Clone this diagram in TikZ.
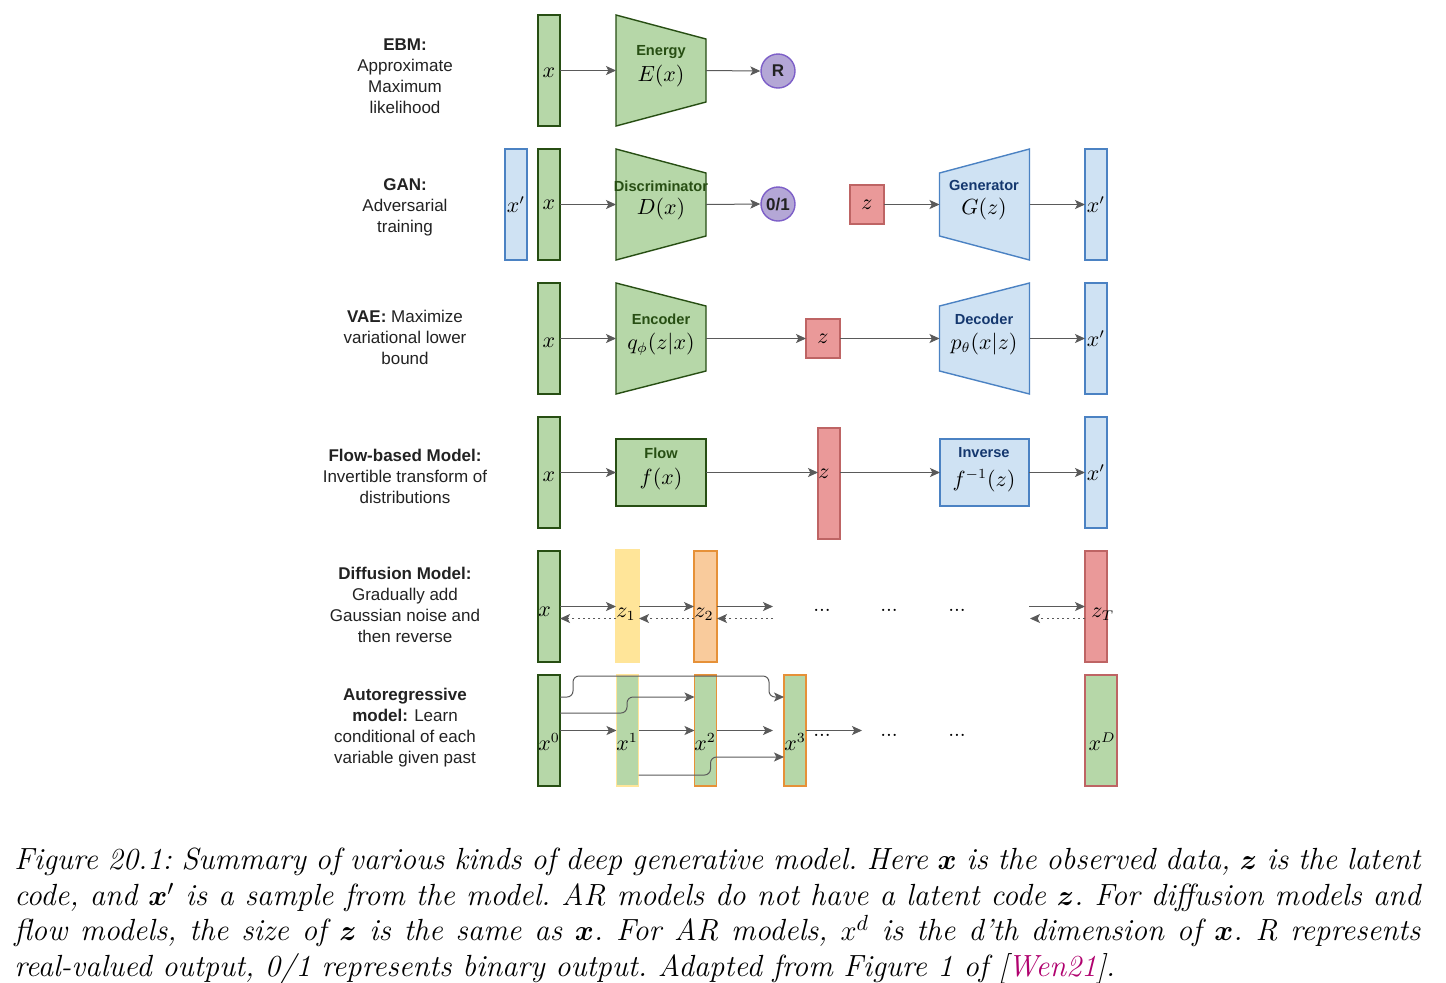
\documentclass[tikz,border=0pt]{standalone}
\usepackage{fontspec}
\usepackage{amsmath}
\usepackage{bm}
\usetikzlibrary{arrows.meta,calc}
\newfontfamily\sansL{Liberation Sans}
\definecolor{gfill}{RGB}{182,215,168}
\definecolor{gdraw}{RGB}{39,78,19}
\definecolor{bfill}{RGB}{207,226,243}
\definecolor{bdraw}{RGB}{75,130,195}
\definecolor{rfill}{RGB}{234,153,153}
\definecolor{rdraw}{RGB}{190,100,100}
\definecolor{pfill}{RGB}{180,167,214}
\definecolor{pdraw}{RGB}{125,95,200}
\definecolor{yfill}{RGB}{255,229,153}
\definecolor{ofill}{RGB}{249,203,156}
\definecolor{odraw}{RGB}{230,145,56}
\definecolor{arrc}{RGB}{90,90,90}
\definecolor{gtext}{RGB}{39,78,19}
\definecolor{btext}{RGB}{20,55,110}
\definecolor{txt}{RGB}{34,34,34}
\definecolor{wen}{RGB}{176,0,110}
\tikzset{
  box/.style={draw, line width=0.7pt, inner sep=0pt, outer sep=0pt},
  gbox/.style={box, draw=gdraw, fill=gfill},
  bbox/.style={box, draw=bdraw, fill=bfill},
  rbox/.style={box, draw=rdraw, fill=rfill},
  vbar/.style={minimum width=11pt, minimum height=55.5pt},
  sqbox/.style={minimum width=17pt, minimum height=19.5pt},
  hid/.style={inner sep=0pt, outer sep=0pt, minimum width=45pt, minimum height=55.5pt},
  arr/.style={draw=arrc, line width=0.5pt, -{Stealth[length=5pt,width=4.5pt,inset=1.2pt]}},
  dashline/.style={dash pattern=on 1pt off 1.6pt},
  side/.style={font=\sansL\fontsize{8.5}{10.5}\selectfont, align=center, text=txt, inner sep=0pt},
  gtitle/.style={font=\sansL\bfseries\fontsize{7.3}{9}\selectfont, text=gtext, inner sep=0pt},
  btitle/.style={font=\sansL\bfseries\fontsize{7.3}{9}\selectfont, text=btext, inner sep=0pt},
  mth/.style={font=\fontsize{10.5}{12}\selectfont, inner sep=0pt},
  dotsl/.style={font=\fontsize{10.5}{12}\selectfont, inner sep=0pt},
  circ/.style={circle, line width=0.7pt, draw=pdraw, fill=pfill, minimum size=17pt, inner sep=0pt, font=\sansL\bfseries\fontsize{8.5}{10}\selectfont, text=txt},
}
\begin{document}
\begin{tikzpicture}[x=0.5pt,y=-0.5pt]
\fill[white] (0,0) rectangle (1446,982);
\useasboundingbox (0,0) rectangle (1446,982);

% ---------- Row 1: EBM ----------
\node[side] (l1) at (405,76) {\textbf{EBM:}\\Approximate\\Maximum\\likelihood};
\node[gbox,vbar] (e-x) at (549,70.5) {};
\node[mth] (e-xl) at (549,73) {$x$};
\node[hid] (e-en) at (661,70.5) {};
\draw[gbox] (e-en.north west) -- ([yshift=-12pt]e-en.north east) -- ([yshift=12pt]e-en.south east) -- (e-en.south west) -- cycle;
\node[gtitle] (e-ent) at (661,52) {Energy};
\node[mth] (e-enm) at (661,76) {$E(x)$};
\node[circ] (e-r) at (778,71) {R};
\draw[arr] (e-x.east) -- (e-en.west);
\draw[arr] (e-en.east) -- (e-r.west);

% ---------- Row 2: GAN ----------
\node[side] (l2) at (405,207.5) {\textbf{GAN:}\\Adversarial\\training};
\node[bbox,vbar,mth] (g-xp) at (516,204.5) {$x'$};
\node[gbox,vbar,mth] (g-x) at (549,204.5) {$x$};
\node[hid] (g-d) at (661,204.5) {};
\draw[gbox] (g-d.north west) -- ([yshift=-12pt]g-d.north east) -- ([yshift=12pt]g-d.south east) -- (g-d.south west) -- cycle;
\node[gtitle] (g-dt) at (661,186) {Discriminator};
\node[mth] (g-dm) at (661,209) {$D(x)$};
\node[circ] (g-c) at (778,204) {0/1};
\node[rbox,sqbox,mth] (g-z) at (867,204.5) {$z$};
\node[hid] (g-g) at (984.5,204.5) {};
\draw[bbox] (g-g.north east) -- (g-g.south east) -- ([yshift=12pt]g-g.south west) -- ([yshift=-12pt]g-g.north west) -- cycle;
\node[btitle] (g-gt) at (984,185) {Generator};
\node[mth] (g-gm) at (984,209) {$G(z)$};
\node[bbox,vbar,mth] (g-xo) at (1096,204.5) {$x'$};
\draw[arr] (g-x.east) -- (g-d.west);
\draw[arr] (g-d.east) -- (g-c.west);
\draw[arr] (g-z.east) -- (g-g.west);
\draw[arr] (g-g.east) -- (g-xo.west);

% ---------- Row 3: VAE ----------
\node[side] (l3) at (405,337.5) {\textbf{VAE:} Maximize\\variational lower\\bound};
\node[gbox,vbar] (v-x) at (549,338.5) {};
\node[mth] (v-xl) at (549,343) {$x$};
\node[hid] (v-e) at (661,338.5) {};
\draw[gbox] (v-e.north west) -- ([yshift=-11.5pt]v-e.north east) -- ([yshift=11.5pt]v-e.south east) -- (v-e.south west) -- cycle;
\node[gtitle] (v-et) at (661,319) {Encoder};
\node[mth] (v-em) at (661,344) {$q_\phi(z|x)$};
\node[rbox,sqbox,mth] (v-z) at (823,338.5) {$z$};
\node[hid] (v-d) at (984.5,338.5) {};
\draw[bbox] (v-d.north east) -- (v-d.south east) -- ([yshift=11.5pt]v-d.south west) -- ([yshift=-11.5pt]v-d.north west) -- cycle;
\node[btitle] (v-dt) at (984,319) {Decoder};
\node[mth] (v-dm) at (984,344) {$p_\theta(x|z)$};
\node[bbox,vbar,mth] (v-xo) at (1096,338.5) {$x'$};
\draw[arr] (v-x.east) -- (v-e.west);
\draw[arr] (v-e.east) -- (v-z.west);
\draw[arr] (v-z.east) -- (v-d.west);
\draw[arr] (v-d.east) -- (v-xo.west);

% ---------- Row 4: Flow ----------
\node[side] (l4) at (405,476.5) {\textbf{Flow-based Model:}\\Invertible transform of\\distributions};
\node[gbox,vbar] (f-x) at (549,472.5) {};
\node[mth] (f-xl) at (549,477) {$x$};
\node[gbox,minimum width=45pt,minimum height=33.5pt] (f-f) at (661,472.5) {};
\node[gtitle] (f-ft) at (661,453) {Flow};
\node[mth] (f-fm) at (661,479) {$f(x)$};
\node[rbox,vbar] (f-z) at (829,483.5) {};
\node[mth,anchor=west] (f-zl) at (818,474) {$z$};
\node[bbox,minimum width=44.5pt,minimum height=33.5pt] (f-i) at (984.5,472.5) {};
\node[btitle] (f-it) at (984,453) {Inverse};
\node[mth] (f-im) at (984,481) {$f^{-1}(z)$};
\node[bbox,vbar,mth] (f-xo) at (1096,472.5) {$x'$};
\draw[arr] (f-x.east) -- (f-f.west);
\draw[arr] (f-f.east) -- (f-f.east -| f-z.west);
\draw[arr] (f-z.east |- f-i.west) -- (f-i.west);
\draw[arr] (f-i.east) -- (f-xo.west);

% ---------- Row 5: Diffusion ----------
\node[side] (l5) at (405,605) {\textbf{Diffusion Model:}\\Gradually add\\Gaussian noise and\\then reverse};
\node[gbox,vbar] (d-x) at (549,606.5) {};
\node[box,draw=yfill,fill=yfill,minimum width=11.5pt,minimum height=56pt] (d-z1) at (627.5,606) {};
\node[box,draw=odraw,fill=ofill,minimum width=11.5pt,minimum height=55.5pt] (d-z2) at (705.5,606.5) {};
\node[rbox,vbar] (d-zt) at (1096,606.5) {};
\coordinate (d-f1) at (773,606.5);
\coordinate (d-b1) at (773,618.5);
\coordinate (d-f2) at (1029,606.5);
\coordinate (d-b2) at (1030,618.5);
\draw[arr] (d-x.east) -- (d-x.east -| d-z1.west);
\draw[arr] (d-z1.east |- d-x.east) -- (d-x.east -| d-z2.west);
\draw[arr] (d-z2.east) -- (d-f1);
\draw[arr] (d-f2) -- (d-zt.west);
\draw[arr,dashline] ([yshift=-6pt]d-z1.west |- d-x.east) -- ([yshift=-6pt]d-x.east);
\draw[arr,dashline] ([yshift=-6pt]d-z2.west) -- ([yshift=-6pt]d-z2.west -| d-z1.east);
\draw[arr,dashline] (d-b1) -- (d-b1 -| d-z2.east);
\draw[arr,dashline] (d-b2 -| d-zt.west) -- (d-b2);
\node[mth,anchor=west] (d-xl) at (538,612) {$x$};
\node[mth,anchor=west] (d-z1l) at (616,614) {$z_1$};
\node[mth,anchor=west] (d-z2l) at (694,614) {$z_2$};
\node[mth,anchor=west] (d-ztl) at (1091,614) {$z_T$};
\node[dotsl] (d-d1) at (822,610) {...};
\node[dotsl] (d-d2) at (889,610) {...};
\node[dotsl] (d-d3) at (957,610) {...};

% ---------- Row 6: Autoregressive ----------
\node[side] (l6) at (405,728) {\textbf{Autoregressive}\\\textbf{model:} Learn\\conditional of each\\variable given past};
\node[gbox,vbar] (a-x0) at (549,730.5) {};
\node[box,line width=0.9pt,draw=yfill,fill=gfill,vbar] (a-x1) at (627.5,730.5) {};
\node[box,line width=0.9pt,draw=odraw,fill=gfill,vbar] (a-x2) at (705.5,730.5) {};
\node[box,line width=0.9pt,draw=odraw,fill=gfill,vbar] (a-x3) at (795,730.5) {};
\node[box,line width=0.9pt,draw=rdraw,fill=gfill,minimum width=16pt,minimum height=55.5pt] (a-xd) at (1101,730.5) {};
\coordinate (a-t) at ([xshift=-7.5pt,yshift=-0.5pt]a-x3.north west);
\coordinate (a-f1) at (773,730.5);
\coordinate (a-f2) at (862,730.5);
\draw[arr,rounded corners=3pt] ([yshift=-11pt]a-x0.north east) -- ++(6.5pt,0) |- (a-t) |- ([yshift=-11pt]a-x3.north west);
\draw[arr,rounded corners=3pt] ([yshift=-19pt]a-x0.north east) -- ++(33.5pt,0) |- ([yshift=-11pt]a-x2.north west);
\draw[arr] (a-x0.east) -- (a-x1.west);
\draw[arr] (a-x1.east) -- (a-x2.west);
\draw[arr] (a-x2.east) -- (a-f1);
\draw[arr,rounded corners=3pt] ([yshift=-50pt]a-x1.north east) -- ++(36pt,0) |- ([yshift=-41pt]a-x3.north west);
\draw[arr] (a-x3.east) -- (a-f2);
\node[mth,anchor=west] (a-x0l) at (538,742) {$x^0$};
\node[mth,anchor=west] (a-x1l) at (616,742) {$x^1$};
\node[mth,anchor=west] (a-x2l) at (694,742) {$x^2$};
\node[mth,anchor=west] (a-x3l) at (784,742) {$x^3$};
\node[mth] (a-xdl) at (1102,742) {$x^D$};
\node[dotsl] (a-d1) at (822,735) {...};
\node[dotsl] (a-d2) at (889,735) {...};
\node[dotsl] (a-d3) at (957,735) {...};

% ---------- Caption ----------
\node[anchor=north west, text width=703pt, align=justify, inner sep=0pt,
      font=\frenchspacing\itshape\fontsize{15.3}{17.75}\selectfont] (cap) at (14,848)
{Figure 20.1: Summary of various kinds of deep generative model. Here $\bm{x}$ is the observed data, $\bm{z}$ is the latent\linebreak
code, and $\bm{x}'$ is a sample from the model. AR models do not have a latent code $\bm{z}$. For diffusion models and\linebreak
flow models, the size of $\bm{z}$ is the same as $\bm{x}$. For AR models, $x^d$ is the d’th dimension of $\bm{x}$. R represents\linebreak
real-valued output, 0/1 represents binary output. Adapted from Figure 1 of [\textcolor{wen}{Wen21}].};
\end{tikzpicture}
\end{document}
